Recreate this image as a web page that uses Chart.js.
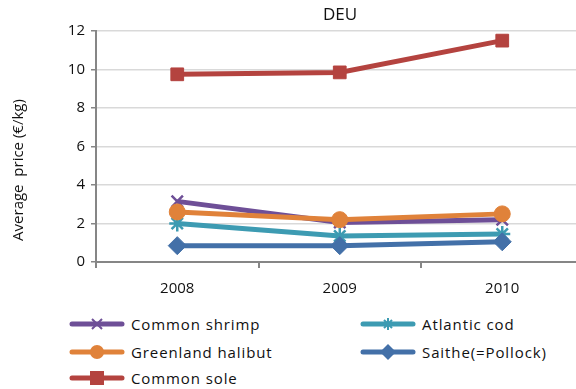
<!DOCTYPE html>
<html>
<head>
<meta charset="utf-8">
<script src="https://cdn.jsdelivr.net/npm/chart.js@4/dist/chart.umd.min.js"></script>
<style>
  html, body { margin: 0; padding: 0; background: #fff; overflow: hidden; }
  body { width: 576px; height: 389px; position: relative; font-family: "Open Sans", sans-serif; }
  #chart { position: absolute; left: 0; top: 0; }
  .leg { position: absolute; height: 20px; display: flex; align-items: center; font-size: 15px; color: #111; letter-spacing: 0.9px; white-space: nowrap; }
  .leg svg { margin-right: 6px; }
</style>
</head>
<body>
<!-- canvas is wider than the page: the plot runs past the right edge in the original -->
<canvas id="chart" width="594" height="305" style="width:594px;height:305px"></canvas>
<div id="legend"></div>
<script>
// Data
const years = ['2008', '2009', '2010'];
const commonShrimp = [3.15, 2.05, 2.2];
const atlanticCod = [2.0, 1.35, 1.45];
const greenlandHalibut = [2.6, 2.2, 2.5];
const saithe = [0.85, 0.85, 1.05];
const commonSole = [9.75, 9.85, 11.5];
const yTicks = [0, 2, 4, 6, 8, 10, 12];

const series = [
  { label: 'Common shrimp', data: commonShrimp, color: '#6E4F97', style: 'crossRot', r: 8, order: 5 },
  { label: 'Atlantic cod', data: atlanticCod, color: '#3D9BB2', style: 'star', r: 8, order: 4 },
  { label: 'Greenland halibut', data: greenlandHalibut, color: '#E0823A', style: 'circle', r: 8, order: 3 },
  { label: 'Saithe(=Pollock)', data: saithe, color: '#4370A8', style: 'rectRot', r: 9, order: 2 },
  { label: 'Common sole', data: commonSole, color: '#B4433F', style: 'rect', r: 9, order: 1 }
];

// Chart title and y-axis title drawn as canvas text
const titlePlugin = {
  id: 'plotTitles',
  afterDraw(chart) {
    const ctx = chart.ctx;
    ctx.save();
    ctx.fillStyle = '#111';
    ctx.textAlign = 'center';
    ctx.textBaseline = 'middle';
    ctx.font = '17px "Open Sans"';
    ctx.fillText('DEU', 340, 15);
    ctx.translate(19, 170);
    ctx.rotate(-Math.PI / 2);
    ctx.font = '15px "Open Sans"';
    ctx.fillText('Average  price (€/kg)', 0, 0);
    ctx.restore();
  }
};

const ctx = document.getElementById('chart').getContext('2d');
new Chart(ctx, {
  type: 'line',
  data: {
    labels: years,
    datasets: series.map(s => ({
      label: s.label,
      data: s.data,
      borderColor: s.color,
      backgroundColor: s.color,
      borderWidth: 5,
      pointStyle: s.style,
      pointRadius: s.r,
      pointBorderWidth: s.style === 'crossRot' || s.style === 'star' ? 2.5 : 1,
      pointBorderColor: s.color,
      pointBackgroundColor: s.color,
      tension: 0,
      order: s.order
    }))
  },
  options: {
    responsive: false,
    animation: false,
    layout: { padding: { top: 31, right: 0, left: 0, bottom: 0 } },
    plugins: {
      legend: { display: false },
      tooltip: { enabled: false }
    },
    scales: {
      x: {
        offset: true,
        grid: { offset: true, drawOnChartArea: false, drawTicks: true, tickLength: 6, color: '#868686', lineWidth: 2 },
        border: { color: '#868686', width: 2 },
        ticks: { color: '#111', font: { family: 'Open Sans', size: 15 }, padding: 12 },
        afterFit(scale) {
          scale.height = 43;
          scale.paddingLeft = 0;
          scale.paddingRight = 0;
        }
      },
      y: {
        min: 0,
        max: 12,
        afterBuildTicks(scale) { scale.ticks = yTicks.map(v => ({ value: v })); },
        grid: { color: '#D9D9D9', lineWidth: 1.5, tickColor: '#868686', tickLength: 5 },
        border: { color: '#868686', width: 2 },
        ticks: { color: '#111', font: { family: 'Open Sans', size: 15 }, padding: 6 },
        afterFit(scale) { scale.width = 96; }
      }
    }
  },
  plugins: [titlePlugin]
});

// Legend (two columns, row-major like the original)
function markerSvg(s) {
  const c = s.color;
  let m = '';
  if (s.style === 'crossRot') m = `<path d="M23 4 L33 14 M33 4 L23 14" stroke="${c}" stroke-width="2"/>`;
  else if (s.style === 'star') m = `<path d="M28 3 V15 M22 9 H34 M24 5 L32 13 M32 5 L24 13" stroke="${c}" stroke-width="2"/>`;
  else if (s.style === 'circle') m = `<circle cx="28" cy="9" r="7" fill="${c}"/>`;
  else if (s.style === 'rectRot') m = `<path d="M28 1 L36 9 L28 17 L20 9 Z" fill="${c}"/>`;
  else m = `<rect x="21" y="2" width="14" height="14" fill="${c}"/>`;
  return `<svg width="56" height="18"><line x1="3" y1="9" x2="53" y2="9" stroke="${c}" stroke-width="5" stroke-linecap="round"/>${m}</svg>`;
}
const legendPos = [
  [69, 314], [360, 314],
  [69, 342], [360, 342],
  [69, 368]
];
const legendEl = document.getElementById('legend');
series.forEach((s, i) => {
  const d = document.createElement('div');
  d.className = 'leg';
  d.style.left = legendPos[i][0] + 'px';
  d.style.top = legendPos[i][1] + 'px';
  d.innerHTML = markerSvg(s) + '<span>' + s.label + '</span>';
  legendEl.appendChild(d);
});
</script>
</body>
</html>
